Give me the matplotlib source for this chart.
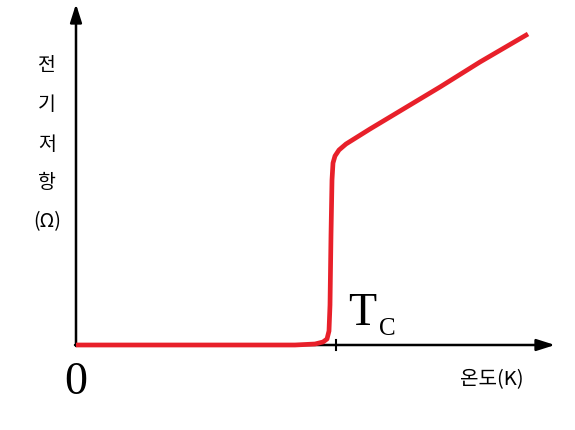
import matplotlib.pyplot as plt

# curve: x = temperature (px from origin), y = resistance (px up)
temp = [0, 219, 239, 247, 251, 253, 254, 255, 256, 257, 259, 263, 270, 294, 324, 364, 404, 452]
resist = [0, 0, 1, 3, 6, 14, 40, 110, 165, 182, 189, 195, 201, 216, 234, 258, 283, 311]
tc = 260
ylabel_chars = ['전', '기', '저', '항', '(Ω)']

plt.rcParams['font.family'] = ['Noto Sans CJK KR', 'DejaVu Sans']

fig = plt.figure(figsize=(5.75, 4.31), dpi=100)
ax = fig.add_axes([0, 0, 1, 1])
ax.set_xlim(-76, 499)
ax.set_ylim(-85, 346)
ax.axis('off')

# axes with arrow heads
arrow = dict(arrowstyle='-|>,head_width=0.35,head_length=1.1', color='black', lw=1.8,
             shrinkA=0, shrinkB=0)
ax.annotate('', xy=(0, 341), xytext=(0, -1), arrowprops=arrow)
ax.annotate('', xy=(479, 0), xytext=(-1, 0), arrowprops=arrow)
ax.plot([tc, tc], [-5, 5], color='black', lw=1.5)

ax.plot(temp, resist, color='#e8202a', lw=3.4, solid_capstyle='butt',
        solid_joinstyle='round', zorder=3)

ax.text(tc + 26, 21, 'T', family='Liberation Serif', fontsize=33, ha='center', va='baseline')
ax.text(tc + 51, 11, 'C', family='Liberation Serif', fontsize=18, ha='center', va='baseline')
ax.text(0, -37, '0', family='Liberation Serif', fontsize=33, ha='center', va='center')
ax.text(416, -34, '온도(K)', fontsize=14.5, ha='center', va='center')

for i, ch in enumerate(ylabel_chars):
    ax.text(-29, 280 - i * 39, ch, fontsize=14, ha='center', va='center')

fig.savefig('out.png', dpi=100)
